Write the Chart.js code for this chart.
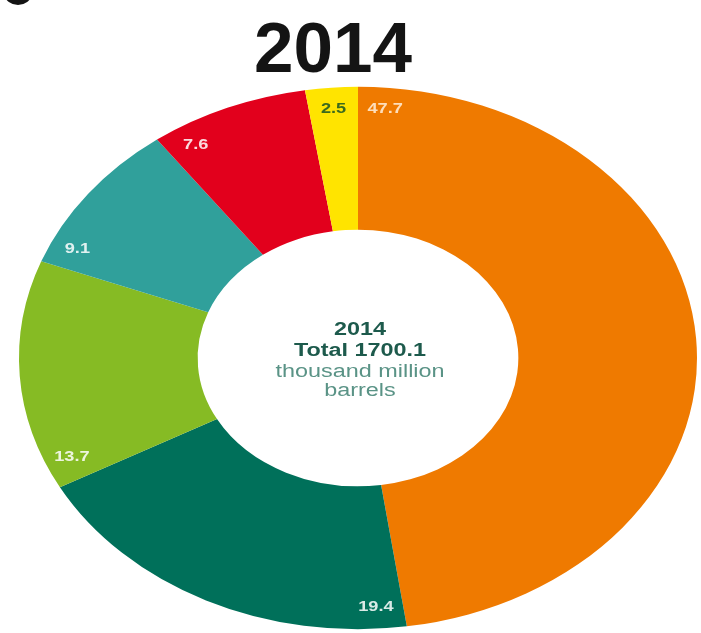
<!DOCTYPE html>
<html>
<head>
<meta charset="utf-8">
<title>2014</title>
<script src="https://cdn.jsdelivr.net/npm/chart.js@4/dist/chart.umd.min.js"></script>
<style>
  html, body { margin: 0; padding: 0; background: #fff; overflow: hidden; }
  #wrap { width: 701px; height: 633px; }
</style>
</head>
<body>
<div id="wrap"><canvas id="reservesChart" width="701" height="633"></canvas></div>
<script>
// share of total reserves, percent (clockwise from 12 o'clock)
const regions = ['Middle East', 'S. & Cent. America', 'North America', 'Europe & Eurasia', 'Africa', 'Asia Pacific'];
const shares = [47.7, 19.4, 13.7, 9.1, 7.6, 2.5];
const sliceColors = ['#ef7a00', '#00705a', '#86bb24', '#30a09b', '#e2001c', '#ffe400'];
const labelColors = ['rgba(255,240,220,0.85)', 'rgba(255,255,255,0.85)', 'rgba(255,255,255,0.85)',
                     'rgba(255,255,255,0.85)', 'rgba(255,255,255,0.85)', '#3b6a1e'];
const centerLines = ['2014', 'Total 1700.1', 'thousand million', 'barrels'];
const titleText = '2014';

const CENTER_Y = 358;   // where the ring is centred on the page
const SQUASH = 0.8;     // ring is drawn as an ellipse
const TEXT_STRETCH = 1.3;

// draw the arcs squashed vertically
const squash = {
  id: 'squash',
  beforeDatasetsDraw(chart) {
    const arc = chart.getDatasetMeta(0).data[0];
    const ctx = chart.ctx;
    ctx.save();
    ctx.translate(arc.x, CENTER_Y);
    ctx.scale(1, SQUASH);
    ctx.translate(-arc.x, -arc.y);
  },
  afterDatasetsDraw(chart) {
    chart.ctx.restore();
  }
};

function wideText(ctx, text, x, y) {
  ctx.save();
  ctx.translate(x, y);
  ctx.scale(TEXT_STRETCH, 1);
  ctx.fillText(text, 0, 0);
  ctx.restore();
}

// values at the outer edge of each slice, centre caption and heading
const annotate = {
  id: 'annotate',
  afterDraw(chart) {
    const ctx = chart.ctx;
    const arcs = chart.getDatasetMeta(0).data;
    const offset = 5 * Math.PI / 180;

    ctx.save();
    ctx.textAlign = 'center';
    ctx.textBaseline = 'middle';
    ctx.font = 'bold 14px "Liberation Sans", Arial, sans-serif';
    arcs.forEach((arc, i) => {
      const span = arc.endAngle - arc.startAngle;
      const a = arc.startAngle + Math.min(span / 2, offset);
      const r = arc.outerRadius * 0.92;
      const x = arc.x + Math.cos(a) * r;
      const y = CENTER_Y + Math.sin(a) * r * SQUASH;
      ctx.fillStyle = labelColors[i];
      wideText(ctx, String(shares[i]), x, y);
    });

    // centre caption
    const cx = arcs[0].x + 2;
    ctx.textBaseline = 'alphabetic';
    const baselines = [335, 356, 377, 396];
    centerLines.forEach((line, i) => {
      const bold = i < 2;
      ctx.font = (bold ? 'bold ' : '') + '18px "Liberation Sans", Arial, sans-serif';
      ctx.fillStyle = bold ? '#1d5a4c' : '#5a9386';
      wideText(ctx, line, cx, baselines[i]);
    });

    // heading
    ctx.font = 'bold 71px "Liberation Sans", Arial, sans-serif';
    ctx.fillStyle = '#141414';
    ctx.fillText(titleText, 333, 72);

    // bottom of the panel letter cut off at the top-left corner
    ctx.beginPath();
    ctx.ellipse(18, -5, 13, 10, 0, 0, Math.PI * 2);
    ctx.fill();
    ctx.restore();
  }
};

new Chart(document.getElementById('reservesChart').getContext('2d'), {
  type: 'doughnut',
  data: {
    labels: regions,
    datasets: [{
      data: shares,
      backgroundColor: sliceColors,
      borderWidth: 0,
      hoverOffset: 0,
      clip: false
    }]
  },
  options: {
    responsive: false,
    animation: false,
    devicePixelRatio: 1,
    radius: 339,
    cutout: '47.3%',
    rotation: 0,
    layout: { padding: { left: 15 } },
    events: [],
    plugins: {
      legend: { display: false },
      tooltip: { enabled: false },
      title: { display: false }
    }
  },
  plugins: [squash, annotate]
});
</script>
</body>
</html>
